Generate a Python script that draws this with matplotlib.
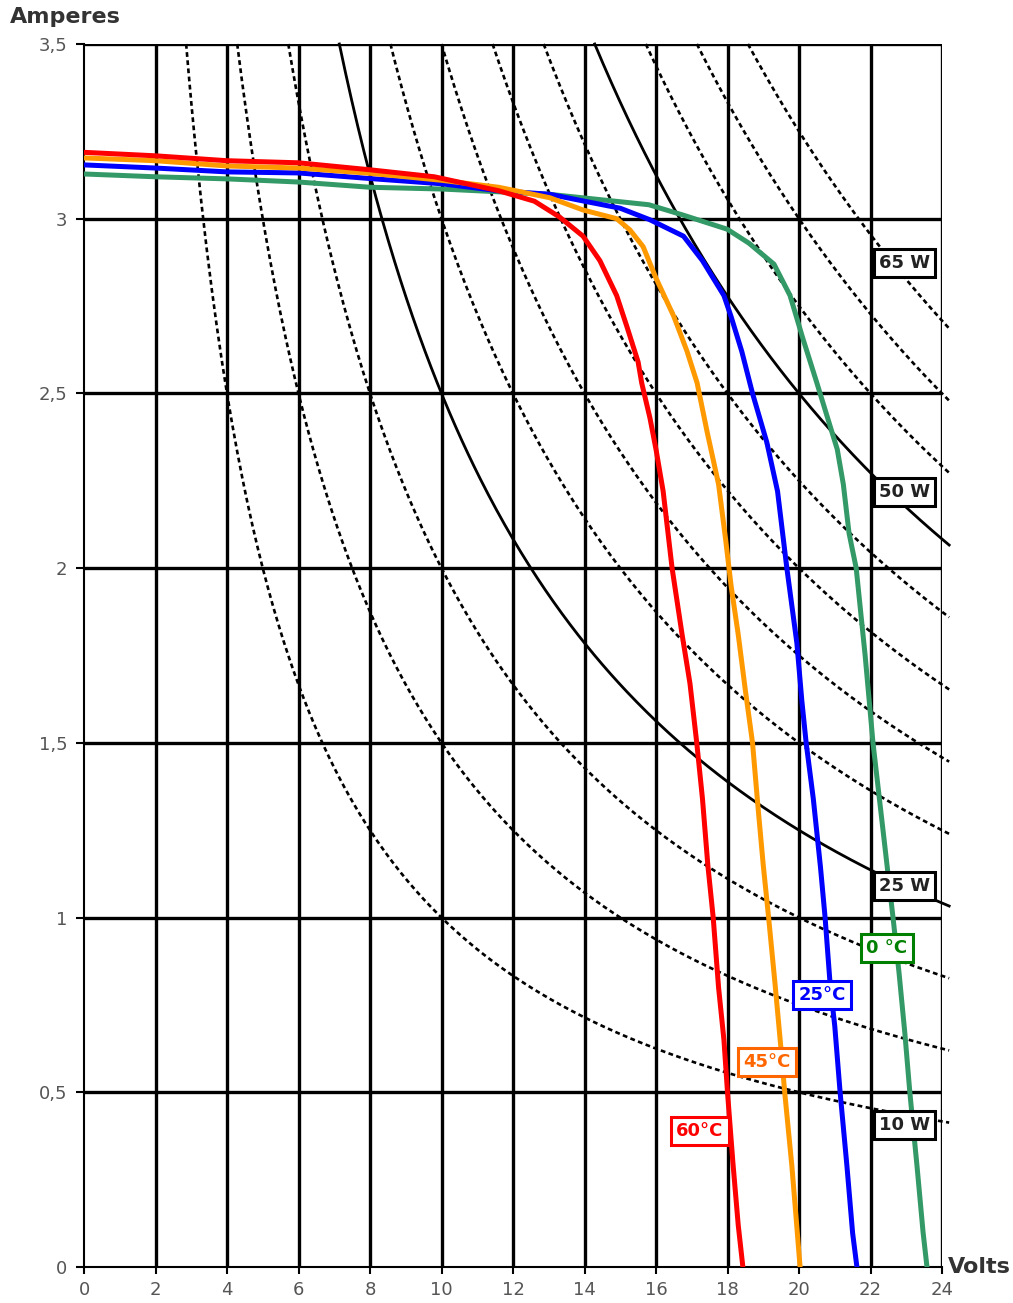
import matplotlib.pyplot as plt
import numpy as np

plt.rcParams['font.family'] = ['DejaVu Sans']

# I-V curves of the panel at four cell temperatures (volts / amperes)
v_60 = [0, 2, 4, 6, 8, 9.8, 11.6, 12.6, 13.3, 13.96, 14.43, 14.9, 15.19, 15.5,
        15.6, 15.83, 16.0, 16.2, 16.45, 16.73, 16.95, 17.14, 17.3, 17.45, 17.6,
        17.75, 17.9, 18.0, 18.15, 18.3, 18.43]
i_60 = [3.19, 3.18, 3.166, 3.16, 3.14, 3.12, 3.08, 3.05, 3.005, 2.95, 2.88, 2.78,
        2.69, 2.59, 2.53, 2.43, 2.34, 2.22, 2.0, 1.81, 1.67, 1.50, 1.34, 1.15, 1.0,
        0.80, 0.65, 0.50, 0.30, 0.12, 0]

v_45 = [0, 2, 4, 6, 8, 10, 11.6, 13.03, 13.96, 14.9, 15.27, 15.64, 16.0, 16.5,
        16.87, 17.15, 17.43, 17.75, 17.95, 18.1, 18.3, 18.5, 18.7, 18.85, 19.0,
        19.15, 19.33, 19.5, 19.6, 19.8, 19.92, 20.03]
i_45 = [3.174, 3.166, 3.151, 3.145, 3.13, 3.11, 3.09, 3.06, 3.025, 3.0, 2.968,
        2.92, 2.83, 2.72, 2.62, 2.53, 2.39, 2.24, 2.08, 1.95, 1.81, 1.65, 1.50,
        1.32, 1.15, 1.0, 0.81, 0.62, 0.50, 0.29, 0.14, 0]

v_25 = [0, 2, 4, 6, 8, 10, 11.6, 13.03, 14.0, 15.0, 15.83, 16.77, 17.3, 17.9,
        18.1, 18.4, 18.7, 19.1, 19.4, 19.66, 19.94, 20.08, 20.2, 20.4, 20.6,
        20.73, 20.87, 21.0, 21.15, 21.34, 21.5, 21.62]
i_25 = [3.154, 3.145, 3.134, 3.131, 3.115, 3.10, 3.08, 3.07, 3.05, 3.03, 2.997,
        2.95, 2.88, 2.78, 2.72, 2.62, 2.50, 2.36, 2.22, 2.0, 1.786, 1.62, 1.50,
        1.34, 1.145, 1.0, 0.81, 0.69, 0.50, 0.29, 0.097, 0]

v_0 = [0, 2, 4, 6, 8, 10, 11.6, 13.0, 15.8, 16.77, 17.99, 18.6, 19.3, 19.75,
       20.1, 20.5, 20.8, 21.07, 21.24, 21.4, 21.6, 21.85, 22.07, 22.35,
       22.63, 22.8, 22.96, 23.1, 23.3, 23.47, 23.58]
i_0 = [3.128, 3.12, 3.114, 3.105, 3.09, 3.085, 3.077, 3.07, 3.04, 3.01, 2.97,
       2.93, 2.87, 2.78, 2.66, 2.53, 2.43, 2.34, 2.24, 2.10, 2.0, 1.75,
       1.50, 1.25, 1.0, 0.84, 0.67, 0.50, 0.29, 0.10, 0]

# constant-power hyperbolas (W)
powers = [10, 15, 20, 25, 30, 35, 40, 45, 50, 55, 60, 65]
solid_powers = [25, 50]

x_ticks = list(range(0, 25, 2))
y_ticks = [0, 0.5, 1, 1.5, 2, 2.5, 3, 3.5]
y_tick_labels = ['0', '0,5', '1', '1,5', '2', '2,5', '3', '3,5']

fig = plt.figure(figsize=(10.13, 13.03), dpi=100)
ax = fig.add_axes([84 / 1013, 36 / 1303, 858 / 1013, 1223 / 1303])
ax.set_xlim(0, 24)
ax.set_ylim(0, 3.5)

# grid: heavy lines, the two axes themselves thinner
for x in x_ticks[1:]:
    ax.axvline(x, color='black', lw=2.4, zorder=1)
for y in y_ticks[1:]:
    ax.axhline(y, color='black', lw=2.4, zorder=1)
for side in ['top', 'right']:
    ax.spines[side].set_visible(False)
for side in ['left', 'bottom']:
    ax.spines[side].set_linewidth(1.5)

for p in powers:
    v = np.linspace(p / 3.5, 24.2, 300)
    if p in solid_powers:
        ax.plot(v, p / v, color='black', lw=2.0, zorder=2, clip_on=False)
    else:
        ax.plot(v, p / v, color='black', lw=1.9, ls=(0, (1.8, 1.3)),
                zorder=2, clip_on=False)

ax.plot(v_0, i_0, color='#339966', lw=3.6, zorder=3, solid_joinstyle='round')
ax.plot(v_25, i_25, color='#0000ff', lw=3.6, zorder=3, solid_joinstyle='round')
ax.plot(v_45, i_45, color='#ff9900', lw=3.6, zorder=3, solid_joinstyle='round')
ax.plot(v_60, i_60, color='#ff0000', lw=3.6, zorder=3, solid_joinstyle='round')

box = dict(facecolor='white', lw=2.2, boxstyle='square,pad=0.28')
for txt, x, y in [('65 W', 22.95, 2.874), ('50 W', 22.95, 2.218),
                  ('25 W', 22.95, 1.09), ('10 W', 22.95, 0.406)]:
    ax.text(x, y, txt, ha='center', va='center', fontsize=13, fontweight='bold',
            color='#222222', zorder=5, bbox=dict(box, edgecolor='black'))

for txt, x, y, c in [('0 °C', 22.46, 0.913, '#008000'),
                     ('25°C', 20.65, 0.778, '#0000ff'),
                     ('45°C', 19.1, 0.587, '#ff6600'),
                     ('60°C', 17.23, 0.389, '#ff0000')]:
    ax.text(x, y, txt, ha='center', va='center', fontsize=13, fontweight='bold',
            color=c, zorder=5, bbox=dict(box, edgecolor=c))

ax.set_xticks(x_ticks)
ax.set_yticks(y_ticks)
ax.set_yticklabels(y_tick_labels)
ax.tick_params(axis='both', colors='black', labelcolor='#555555',
               labelsize=13, width=1.5)
ax.tick_params(axis='y', length=6, pad=6)
ax.tick_params(axis='x', length=5, pad=5)

fig.text(10 / 1013, 1 - 17 / 1303, 'Amperes', fontsize=16, fontweight='bold',
         color='#333333', ha='left', va='center')
fig.text(948 / 1013, 1 - 1267 / 1303, 'Volts', fontsize=16, fontweight='bold',
         color='#333333', ha='left', va='center')

fig.savefig('out.png', dpi=100)
